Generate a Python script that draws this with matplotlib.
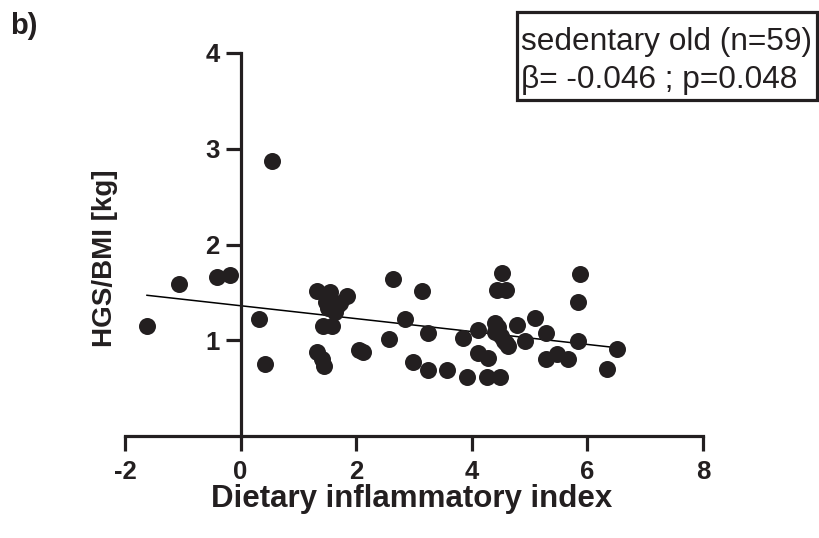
import numpy as np
import matplotlib
matplotlib.use('Agg')
import matplotlib.pyplot as plt
from matplotlib.patches import Rectangle

plt.rcParams['font.family'] = ['Liberation Sans', 'DejaVu Sans']
plt.rcParams['axes.unicode_minus'] = False

# dietary inflammatory index vs HGS/BMI, sedentary old group
dii = [-1.62, -1.06, -0.41, -0.18, 0.31, 0.43, 0.55,
       1.32, 1.55, 1.84, 1.72, 1.52, 1.63, 1.43, 1.58, 1.32, 1.40, 1.45,
       1.48, 1.66,
       2.04, 2.12, 2.56, 2.64, 3.13, 2.84, 3.25, 2.99, 3.25, 3.57,
       3.91, 4.26, 4.49, 3.85, 4.11, 4.40, 4.40, 4.52, 4.43, 4.60,
       4.11, 4.28, 4.55, 4.63, 4.45, 4.50, 4.60,
       4.78, 4.92, 5.09, 5.28, 5.28, 5.48, 5.67, 5.88, 5.83, 5.84,
       6.51, 6.34]
hgs_bmi = [1.15, 1.59, 1.66, 1.68, 1.22, 0.75, 2.87,
           1.51, 1.50, 1.46, 1.39, 1.34, 1.30, 1.15, 1.15, 0.88, 0.80, 0.73,
           1.40, 1.36,
           0.90, 0.88, 1.01, 1.64, 1.51, 1.22, 1.08, 0.77, 0.69, 0.69,
           0.62, 0.62, 0.62, 1.02, 1.11, 1.18, 1.09, 1.70, 1.52, 1.52,
           0.87, 0.81, 0.99, 0.94, 1.14, 1.04, 0.97,
           1.16, 0.99, 1.23, 1.08, 0.80, 0.86, 0.80, 1.69, 1.40, 0.99,
           0.91, 0.70]

x_ticks = [-2, 0, 2, 4, 6, 8]
y_ticks = [1, 2, 3, 4]

fig = plt.figure(figsize=(8.19, 5.38), dpi=100)
ax = fig.add_axes([125 / 819, 102 / 538, 578 / 819, 383 / 538])

ax.scatter(dii, hgs_bmi, s=150, color='#231f20', zorder=3, linewidths=0)

slope, intercept = np.polyfit(dii, hgs_bmi, 1)
xs = np.array([min(dii), max(dii)])
ax.plot(xs, intercept + slope * xs, color='black', lw=1.1, zorder=2)

ax.set_xlim(-2, 8)
ax.set_ylim(0, 4)
ax.set_xticks(x_ticks)
ax.set_yticks(y_ticks)

for side in ['top', 'right']:
    ax.spines[side].set_visible(False)
ax.spines['left'].set_position(('data', 0))
ax.spines['bottom'].set_position(('data', 0))
for side in ['left', 'bottom']:
    ax.spines[side].set_linewidth(2.3)
    ax.spines[side].set_color('#231f20')
ax.tick_params(axis='both', width=2.3, length=11, color='#231f20',
               labelsize=18.5, pad=4)
ax.tick_params(axis='x', pad=6)
for lbl in ax.get_xticklabels() + ax.get_yticklabels():
    lbl.set_fontweight('bold')
    lbl.set_color('#231f20')

fig.text(412 / 819, 1 - 499 / 538, 'Dietary inflammatory index', fontsize=22.5,
         fontweight='bold', color='#231f20', ha='center', va='center')
fig.text(105 / 819, 1 - 258 / 538, 'HGS/BMI [kg]', fontsize=20,
         fontweight='bold', color='#231f20', ha='center', va='center',
         rotation=90)
fig.text(10 / 819, 1 - 26 / 538, 'b)', fontsize=21, fontweight='bold',
         color='#231f20', ha='left', va='center')

box = Rectangle((517 / 819, 1 - 100 / 538), 300 / 819, 88 / 538,
                transform=fig.transFigure, fill=False, lw=2.3,
                edgecolor='#231f20')
fig.patches.append(box)
fig.text(521 / 819, 1 - 42 / 538, 'sedentary old (n=59)', fontsize=22.8,
         color='#231f20', ha='left', va='center')
fig.text(521 / 819, 1 - 80 / 538, 'β= -0.046 ; p=0.048', fontsize=22.8,
         color='#231f20', ha='left', va='center')

fig.savefig('out.png', dpi=100)
plt.close(fig)
